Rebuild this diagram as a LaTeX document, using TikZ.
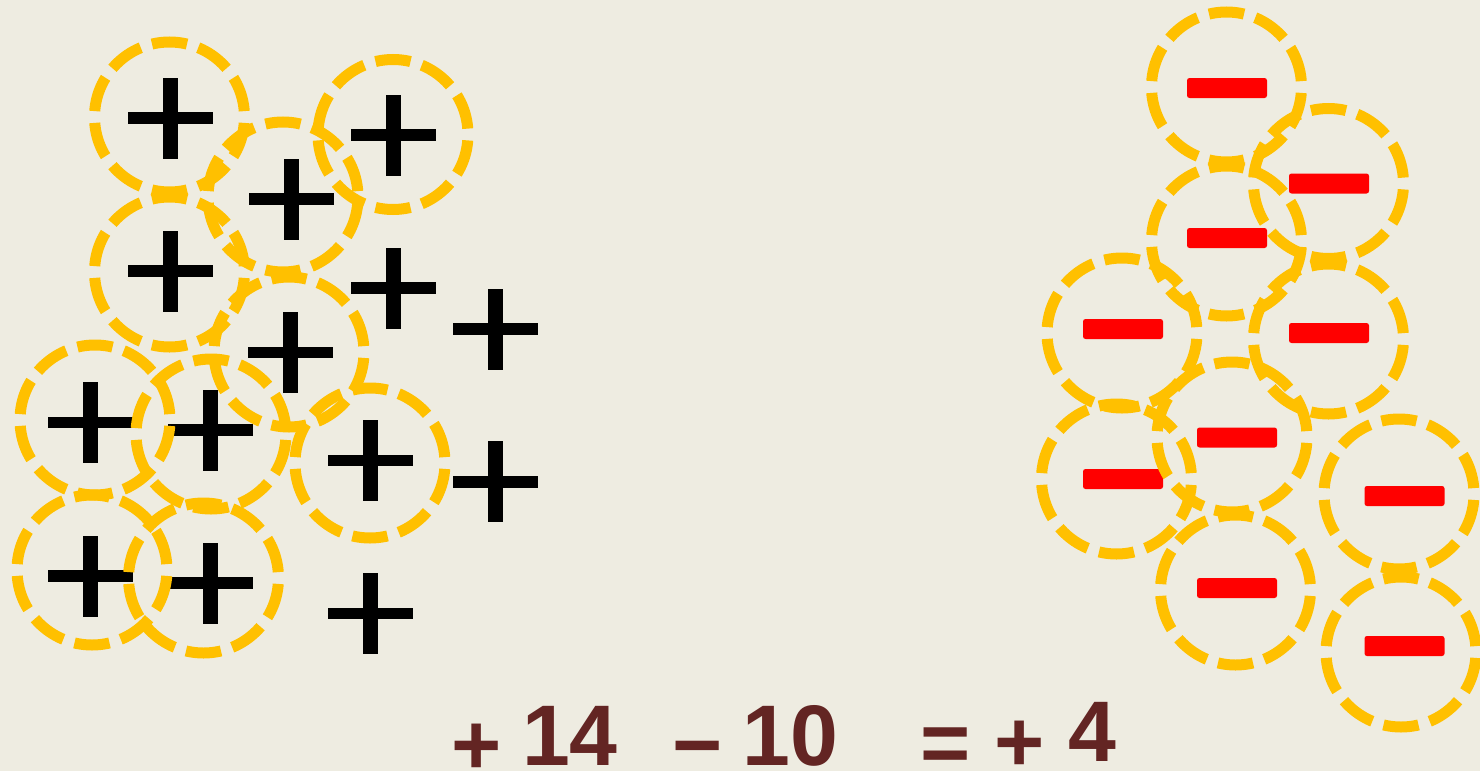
\documentclass[tikz,border=0pt]{standalone}
\usepackage{fontspec}
\setmainfont{Liberation Sans}
\definecolor{bg}{HTML}{EEECE1}
\definecolor{ringcol}{HTML}{FFC000}
\definecolor{eqcol}{RGB}{99,37,35}
\newcommand{\lowered}[2]{\raisebox{-#1}[44pt][0pt]{#2}}
\tikzset{
  ring/.style={circle, draw=ringcol, line width=11pt, minimum size=150pt, inner sep=0pt,
    dash pattern=on 35.343pt off 11.781pt, dash phase=41.233pt},
  minussign/.style={rectangle, fill=red, minimum width=80pt, minimum height=20pt,
    inner sep=0pt, rounded corners=2.5pt},
  plussign/.pic={\fill[black] (-42.5,-5.9) rectangle (42.5,5.9);
                 \fill[black] (-7.5,-40.5) rectangle (7.5,40.5);},
  eq/.style={text=eqcol, font=\fontsize{86}{86}\selectfont\bfseries, inner sep=0pt, anchor=base}
}
\begin{document}
\begin{tikzpicture}[x=1pt,y=-1pt]
\fill[bg] (0,0) rectangle (1480,771);
\useasboundingbox (0,0) rectangle (1480,771);

% plus signs
\pic at (170,118) {plussign};
\pic at (291,199) {plussign};
\pic at (393,135) {plussign};
\pic at (170,271) {plussign};
\pic at (393,288) {plussign};
\pic at (495,329) {plussign};
\pic at (290.5,352.5) {plussign};
\pic at (90.5,422.5) {plussign};
\pic at (210,430) {plussign};
\pic at (370.5,460.5) {plussign};
\pic at (495,481.7) {plussign};
\pic at (90.5,576) {plussign};
\pic at (210,583) {plussign};
\pic at (370.5,613.5) {plussign};

% rings around plus signs
\node[ring] (c1) at (169.5,117) {};
\node[ring] (c2) at (283,197) {};
\node[ring] (c3) at (393,134.5) {};
\node[ring] (c4) at (169.5,272) {};
\node[ring] (c7) at (289,352) {};
\node[ring] (c8) at (95,420) {};
\node[ring] (c9) at (211,434) {};
\node[ring] (c10) at (370,463) {};
\node[ring] (c12) at (92,570) {};
\node[ring] (c13) at (203.5,578) {};

% minus signs
\node[minussign] (n1) at (1227,88) {};
\node[minussign] (n2) at (1329,183.5) {};
\node[minussign] (n3) at (1227,238) {};
\node[minussign] (n4) at (1123,329) {};
\node[minussign] (n5) at (1329,333) {};
\node[minussign] (n6) at (1237,437.5) {};
\node[minussign] (n7) at (1123,479) {};
\node[minussign] (n8) at (1404.5,496) {};
\node[minussign] (n9) at (1237,588) {};
\node[minussign] (n10) at (1404.5,646) {};

% rings around minus signs
\node[ring] (r1) at (1226.5,87) {};
\node[ring] (r2) at (1328.5,183.5) {};
\node[ring] (r3) at (1226.5,241) {};
\node[ring] (r4) at (1122,333) {};
\node[ring] (r5) at (1328.5,339) {};
\node[ring] (r6) at (1232,437) {};
\node[ring] (r7) at (1116.5,479) {};
\node[ring] (r8) at (1399,494) {};
\node[ring] (r9) at (1235.5,590) {};
\node[ring] (r10) at (1401,652) {};

% equation
\node[eq] (e1) at (476.5,765) {\lowered{9.5pt}{+}};
\node[eq] (e2) at (570,765) {14};
\node[eq] (e3) at (698,765) {\lowered{9pt}{−}};
\node[eq] (e4) at (790.3,765) {10};
\node[eq] (e5) at (946,765) {\lowered{7.5pt}{=}};
\node[eq] (e6) at (1019.5,765) {\lowered{6.7pt}{+}};
\node[eq] (e7) at (1092,761.7) {4};
\end{tikzpicture}
\end{document}
